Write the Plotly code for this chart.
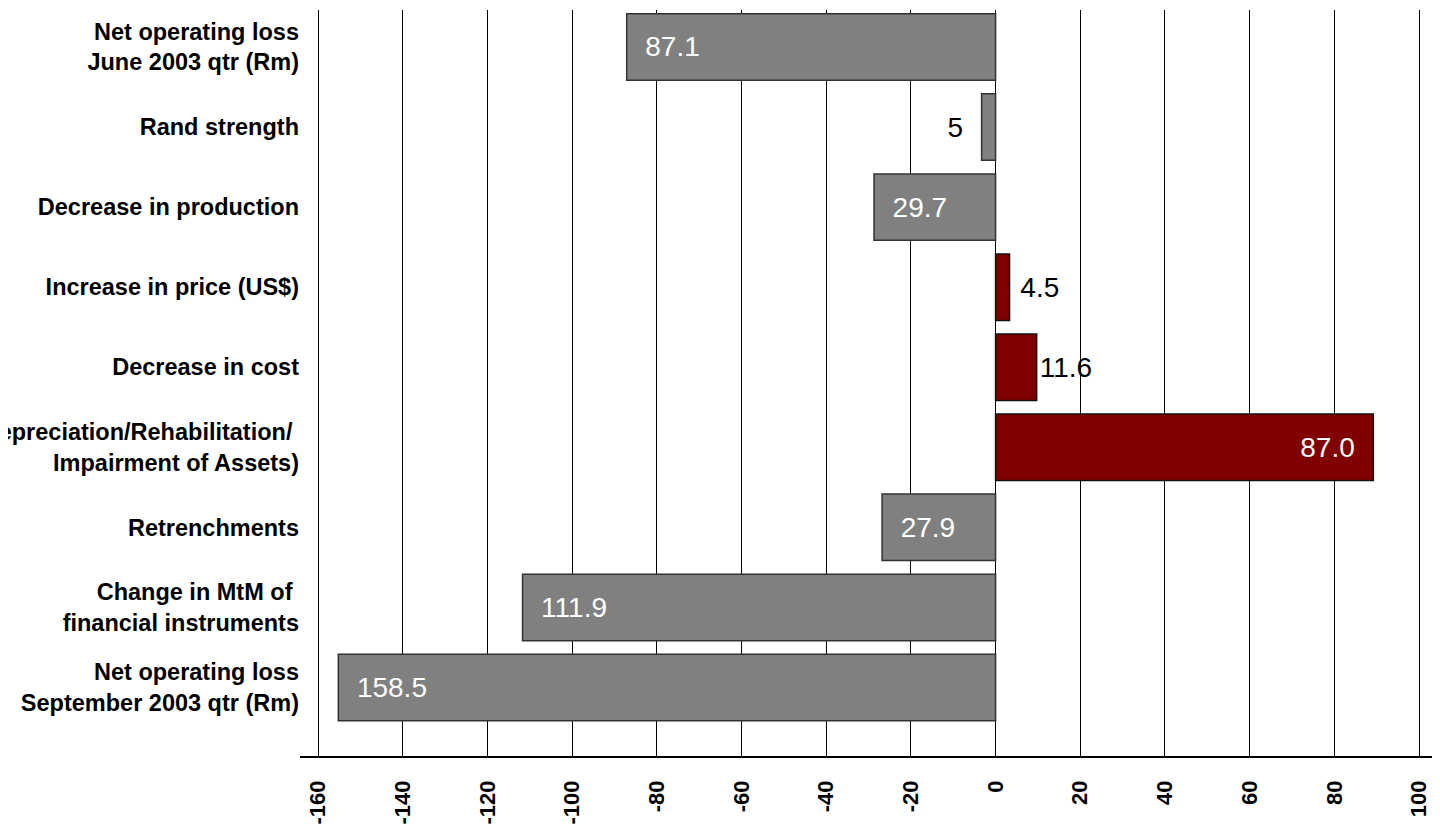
import plotly.graph_objects as go

# ---- data ----
categories = [
    "Net operating loss<br>June 2003 qtr (Rm)",
    "Rand strength",
    "Decrease in production",
    "Increase in price (US$)",
    "Decrease in cost",
    "(Depreciation/Rehabilitation/ <br>Impairment of Assets)",
    "Retrenchments",
    "Change in MtM of <br>financial instruments",
    "Net operating loss<br>September 2003 qtr (Rm)",
]
# bar lengths as drawn in the picture
bar_values = [-87.1, -3.3, -28.7, 3.3, 9.7, 89.2, -26.8, -111.7, -155.2]
# data labels printed on the bars
bar_labels = ["87.1", "5", "29.7", "4.5", "11.6", "87.0", "27.9", "111.9", "158.5"]
label_inside = [True, False, True, False, False, True, True, True, True]
x_ticks = [-160, -140, -120, -100, -80, -60, -40, -20, 0, 20, 40, 60, 80, 100]

# ---- styling ----
GREY = "#808080"
RED = "#800000"
label_pad = [2, 2, 2, 1, 0, 2, 2, 2, 2]   # non-breaking spaces between bar end and label

colors = [RED if v > 0 else GREY for v in bar_values]
line_colors = ["#111111" if v > 0 else "#333333" for v in bar_values]

nb = "\u00a0"
texts, positions, tcolors = [], [], []
for v, lab, inside, p in zip(bar_values, bar_labels, label_inside, label_pad):
    positions.append("inside" if inside else "outside")
    tcolors.append("white" if inside else "black")
    if inside:
        texts.append(nb * p + lab if v < 0 else lab + nb * p)
    else:
        texts.append(lab + nb * p if v < 0 else nb * p + lab)

fig = go.Figure()
fig.add_trace(go.Bar(
    y=categories,
    x=bar_values,
    orientation="h",
    width=0.83,
    marker=dict(color=colors, line=dict(color=line_colors, width=1.5)),
    text=texts,
    textposition=positions,
    insidetextanchor="end",
    constraintext="none",
    textfont=dict(family="Liberation Sans, Arial", size=28, color=tcolors),
    cliponaxis=False,
    showlegend=False,
))

fig.update_layout(
    width=1440, height=833,
    margin=dict(l=292, r=12, t=2, b=85, autoexpand=False),
    paper_bgcolor="white",
    plot_bgcolor="white",
    bargap=0.17,
    font=dict(family="Liberation Sans, Arial", color="black"),
)
fig.update_xaxes(
    automargin=False,
    range=[-164.25, 104.0],
    tickvals=x_ticks,
    ticktext=[str(t) for t in x_ticks],
    tickangle=-90,
    tickfont=dict(family="Liberation Sans, Arial", size=22, color="black", weight="bold"),
    ticklabelstandoff=14,
    showgrid=True, gridcolor="black", gridwidth=1.3,
    zeroline=False,
    showline=True, linecolor="black", linewidth=1.5,
    ticks="",
)
fig.update_yaxes(
    automargin=False,
    type="category",
    range=[8.856, -0.462],
    showgrid=False, zeroline=False, showline=False,
    ticks="",
    tickfont=dict(family="Liberation Sans, Arial", size=23.5, color="black", weight="bold"),
)

fig.write_html("out.html")
